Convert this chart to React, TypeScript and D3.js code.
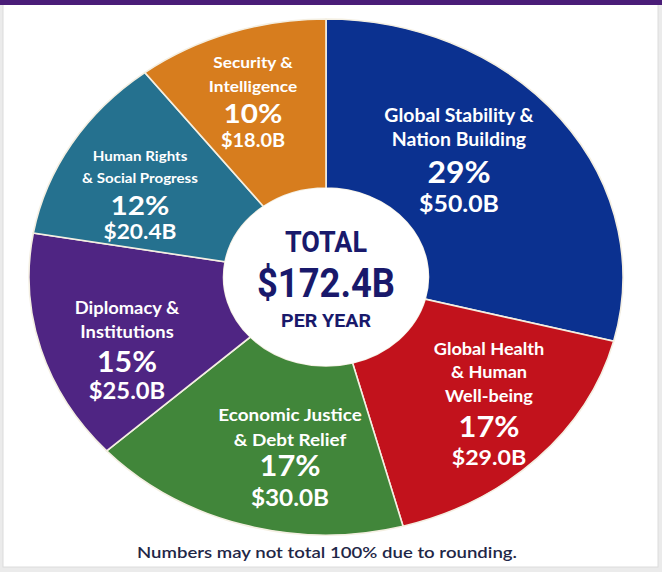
import React from "react";
import * as d3 from "d3";

const categories = [
  "Global Stability & Nation Building",
  "Global Health & Human Well-being",
  "Economic Justice & Debt Relief",
  "Diplomacy & Institutions",
  "Human Rights & Social Progress",
  "Security & Intelligence",
];
const values = [50.0, 29.0, 30.0, 25.0, 20.4, 18.0];
const percents = ["29%", "17%", "17%", "15%", "12%", "10%"];
const amounts = ["$50.0B", "$29.0B", "$30.0B", "$25.0B", "$20.4B", "$18.0B"];
const labelLines = [
  ["Global Stability &", "Nation Building"],
  ["Global Health", "& Human", "Well-being"],
  ["Economic Justice", "& Debt Relief"],
  ["Diplomacy &", "Institutions"],
  ["Human Rights", "& Social Progress"],
  ["Security &", "Intelligence"],
];
const colors = ["#0b3190", "#c2121c", "#41863a", "#4f2583", "#25718f", "#d77d1e"];

// label layout: center x, name-line baselines, percent baseline, amount baseline, font sizes
const labelPos = [
  { x: 459, ys: [122, 146], py: 183, ay: 212, name: 18, pct: 29.5, amt: 23 },
  { x: 489, ys: [355, 378, 402], py: 437, ay: 465, name: 16.8, pct: 28.5, amt: 21.5 },
  { x: 290, ys: [421, 446], py: 476, ay: 506, name: 17.5, pct: 28.5, amt: 22.5 },
  { x: 127, ys: [314, 338], py: 372, ay: 399, name: 17, pct: 28, amt: 22 },
  { x: 140, ys: [161, 183], py: 215, ay: 239, name: 14, pct: 27.5, amt: 21 },
  { x: 253, ys: [68, 92], py: 123, ay: 147, name: 16, pct: 27.5, amt: 18.5 },
];

const W = 662;
const H = 572;
const cx = 326;
const cy = 277;
const R = 258;
const sx = 297 / 258;
const innerR = 89;
const stretch = 1.08;

function Label(props: { x: number; y: number; size: number; children: React.ReactNode }) {
  return (
    <text transform={`translate(${props.x},${props.y}) scale(${stretch},1)`} fontSize={props.size}>
      {props.children}
    </text>
  );
}

export default function App() {
  const pie = d3
    .pie<number>()
    .sort(null)
    .value((d) => d)
    .startAngle(0)
    .endAngle(2 * Math.PI);
  const arcs = pie(values);
  const arc = d3.arc<d3.PieArcDatum<number>>().innerRadius(innerR).outerRadius(R);

  const labelFont = "Lato, 'Open Sans', sans-serif";
  return (
    <svg width={W} height={H} style={{ position: "fixed", left: 0, top: 0 }}>
      <rect x={0} y={0} width={W} height={H} fill="#ebebeb" />
      <rect x={3} y={4} width={655} height={563} fill="#ffffff" stroke="#dcdcdc" />
      <rect x={0} y={0} width={W} height={5} fill="#4a1d78" />
      <g transform={`translate(${cx},${cy}) scale(${sx},1)`}>
        {arcs.map((a, i) => (
          <path
            key={categories[i]}
            d={arc(a) || ""}
            fill={colors[i]}
            stroke="#f4efe2"
            strokeWidth={1.6}
            vectorEffect="non-scaling-stroke"
          />
        ))}
        <circle r={innerR} fill="#ffffff" />
      </g>
      {labelLines.map((lines, i) => {
        const p = labelPos[i];
        return (
          <g
            key={categories[i]}
            fill="#ffffff"
            textAnchor="middle"
            fontFamily={labelFont}
            fontWeight={700}
          >
            {lines.map((l, j) => (
              <Label key={j} x={p.x} y={p.ys[j]} size={p.name}>
                {l}
              </Label>
            ))}
            <Label x={p.x} y={p.py} size={p.pct}>
              {percents[i]}
            </Label>
            <Label x={p.x} y={p.ay} size={p.amt}>
              {amounts[i]}
            </Label>
          </g>
        );
      })}
      <g fill="#19196b" textAnchor="middle" fontFamily="Roboto, sans-serif" fontWeight={700}>
        <text x={cx} y={252} fontSize={30} textLength={82} lengthAdjust="spacingAndGlyphs">
          TOTAL
        </text>
        <text x={cx} y={297} fontSize={40} textLength={138} lengthAdjust="spacingAndGlyphs">
          $172.4B
        </text>
        <text x={cx} y={327} fontSize={19} textLength={90} lengthAdjust="spacingAndGlyphs">
          PER YEAR
        </text>
      </g>
      <text
        x={327}
        y={558}
        textAnchor="middle"
        fontFamily={labelFont}
        fontSize={16}
        fontWeight={600}
        fill="#1f2747"
        textLength={380}
        lengthAdjust="spacingAndGlyphs"
      >
        Numbers may not total 100% due to rounding.
      </text>
    </svg>
  );
}
